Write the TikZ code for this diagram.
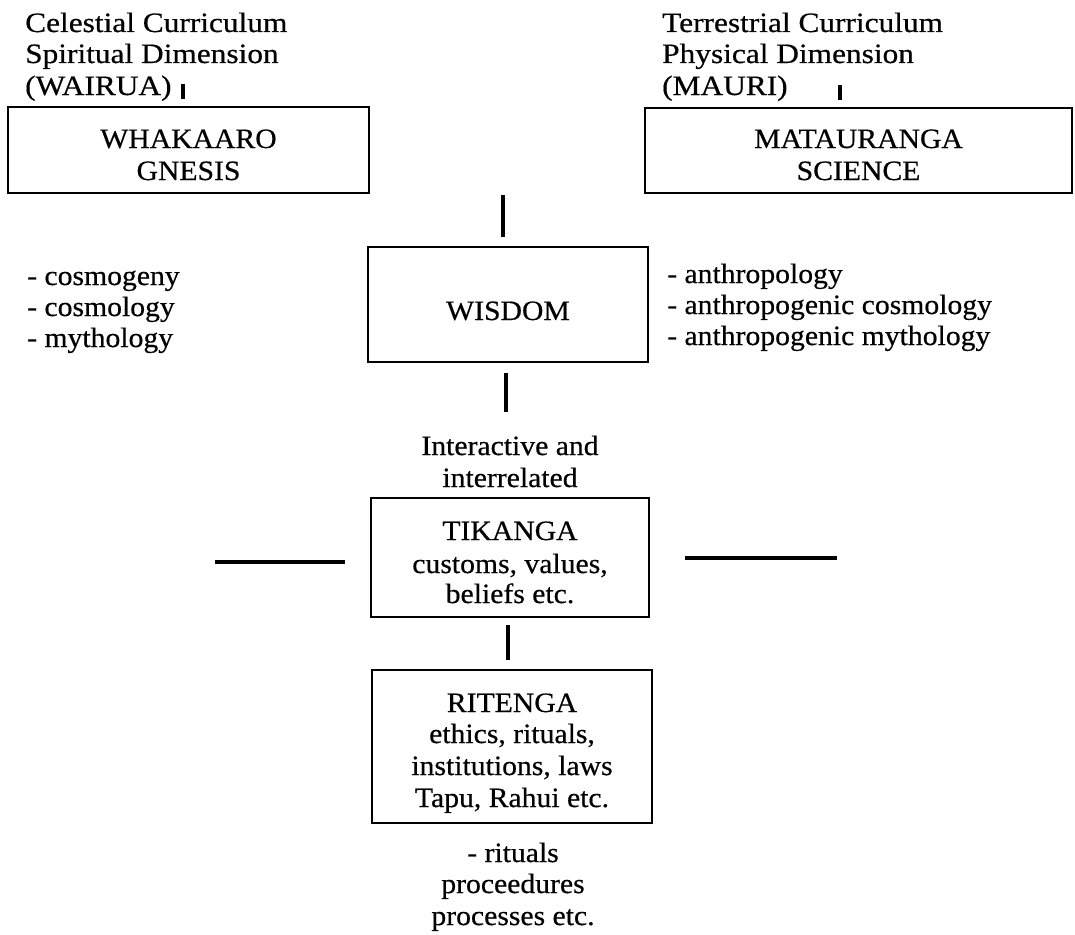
\documentclass[tikz,border=0pt]{standalone}
\usepackage{fontspec}
\setmainfont{Liberation Serif}[FakeStretch=1.06,FakeBold=0.5]
\newfontfamily\hdrfont{Liberation Serif}[FakeStretch=1.12,FakeBold=0.5]
\begin{document}
\begin{tikzpicture}[x=1pt,y=-1pt,
  box/.style={draw, line width=2.6pt, inner sep=0pt},
  lbl/.style={inner sep=0pt, font=\fontsize{28}{31.5}\selectfont},
  lw/.style={lbl, anchor=base west},
  lc/.style={lbl, anchor=base},
  hd/.style={inner sep=0pt, anchor=base west, font=\hdrfont\fontsize{28}{31.5}\selectfont},
  stub/.style={line width=3.2pt}]
\useasboundingbox (0,0) rectangle (1075,934);
% boxes
\node[box, minimum width=361pt, minimum height=86pt]  (whak) at (188.5,150) {};
\node[box, minimum width=427pt, minimum height=85pt]  (mata) at (858.5,150.5) {};
\node[box, minimum width=280pt, minimum height=115pt] (wisd) at (508,304.5) {};
\node[box, minimum width=278pt, minimum height=119pt] (tika) at (510,557.5) {};
\node[box, minimum width=280pt, minimum height=153pt] (rite) at (512,746.5) {};
% headers
\node[hd] (cel1) at (25,32) {Celestial Curriculum};
\node[hd] (cel2) at (25,63) {Spiritual Dimension};
\node[hd] (cel3) at (25,95) {(WAIRUA)};
\node[hd] (ter1) at (662,32) {Terrestrial Curriculum};
\node[hd] (ter2) at (662,63) {Physical Dimension};
\node[hd] (ter3) at (662,95) {(MAURI)};
% box texts
\node[lc] (wh1) at (188.5,148) {WHAKAARO};
\node[lc] (wh2) at (188.5,180) {GNESIS};
\node[lc] (ma1) at (858.5,148) {MATAURANGA};
\node[lc] (ma2) at (858.5,180) {SCIENCE};
\node[lc] (wis) at (508,320) {WISDOM};
\node[lc] (tk1) at (510,540) {TIKANGA};
\node[lc] (tk2) at (510,573) {customs, values,};
\node[lc] (tk3) at (510,603) {beliefs etc.};
\node[lc] (rt1) at (512,712) {RITENGA};
\node[lc] (rt2) at (512,743) {ethics, rituals,};
\node[lc] (rt3) at (512,775) {institutions, laws};
\node[lc] (rt4) at (512,807) {Tapu, Rahui etc.};
% lists
\node[lw] (ll1) at (27,285) {- cosmogeny};
\node[lw] (ll2) at (27,316) {- cosmology};
\node[lw] (ll3) at (27,347) {- mythology};
\node[lw] (rl1) at (667,283) {- anthropology};
\node[lw] (rl2) at (667,314) {- anthropogenic cosmology};
\node[lw] (rl3) at (667,345) {- anthropogenic mythology};
\node[lc] (ia1) at (510,455) {Interactive and};
\node[lc] (ia2) at (510,487) {interrelated};
\node[lc] (bt1) at (513,862) {- rituals};
\node[lc] (bt2) at (513,893) {proceedures};
\node[lc] (bt3) at (513,925) {processes etc.};
% stubs
\coordinate (wa1) at (183,84);  \coordinate (wa2) at (183,99);
\coordinate (mu1) at (840,85);  \coordinate (mu2) at (840,100);
\coordinate (ws1) at (503,195); \coordinate (ws2) at (503,237);
\coordinate (wb1) at (506,373); \coordinate (wb2) at (506,412);
\coordinate (tr1) at (508,625); \coordinate (tr2) at (508,660);
\coordinate (hl1) at (215,562); \coordinate (hl2) at (345,562);
\coordinate (hr1) at (685,558); \coordinate (hr2) at (837,558);
\draw[stub] (wa1) -- (wa2);
\draw[stub] (mu1) -- (mu2);
\draw[stub] (ws1) -- (ws2);
\draw[stub] (wb1) -- (wb2);
\draw[stub] (tr1) -- (tr2);
\draw[stub] (hl1) -- (hl2);
\draw[stub] (hr1) -- (hr2);
\end{tikzpicture}
\end{document}
